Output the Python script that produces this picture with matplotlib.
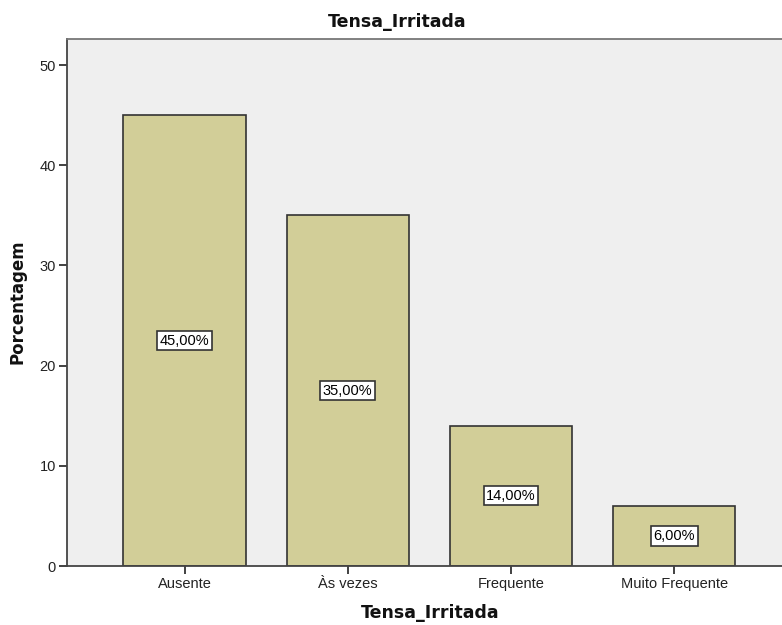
import matplotlib.pyplot as plt

# Frequency distribution of Tensa_Irritada
categorias = ["Ausente", "Às vezes", "Frequente", "Muito Frequente"]
porcentagens = [45.0, 35.0, 14.0, 6.0]

fig = plt.figure(figsize=(7.82, 6.25), dpi=100)
ax = fig.add_axes([67 / 782, 59 / 625, 1 - 67 / 782, 527 / 625])
ax.set_facecolor("#efefef")

x = range(len(categorias))
ax.bar(x, porcentagens, width=0.75, color="#d2ce98", edgecolor="#333333",
       linewidth=1.2, zorder=2)

for xi, v in zip(x, porcentagens):
    ax.text(xi, v / 2, f"{v:.2f}%".replace(".", ","), ha="center", va="center",
            fontsize=10.5, family="Liberation Sans", color="black", zorder=3,
            bbox=dict(boxstyle="square,pad=0.18", fc="white", ec="#333333", lw=1.2))

ax.set_xlim(-0.72, 3.66)
ax.set_ylim(0, 52.6)
ax.set_yticks([0, 10, 20, 30, 40, 50])
ax.set_xticks(list(x))
ax.set_xticklabels(categorias)

for side in ["left", "bottom"]:
    ax.spines[side].set_color("#444444")
    ax.spines[side].set_linewidth(1.3)
ax.spines["top"].set_color("#777777")
ax.spines["top"].set_linewidth(1.3)
ax.spines["right"].set_visible(False)

ax.tick_params(axis="both", direction="out", length=6, width=1.3, color="#333333",
               labelsize=10.5, labelcolor="#222222", pad=2)
for lbl in ax.get_xticklabels() + ax.get_yticklabels():
    lbl.set_family("Liberation Sans")

fig.text(397 / 782, 1 - 22 / 625, "Tensa_Irritada", ha="center", va="center",
         fontsize=12.5, fontweight="bold", color="#111111")
fig.text(430 / 782, 1 - 613 / 625, "Tensa_Irritada", ha="center", va="center",
         fontsize=12.5, fontweight="bold", color="#111111")
fig.text(18 / 782, 1 - 302 / 625, "Porcentagem", ha="center", va="center",
         rotation=90, fontsize=12, fontweight="bold", color="#111111")

fig.savefig("out.png", dpi=100, facecolor="white")
